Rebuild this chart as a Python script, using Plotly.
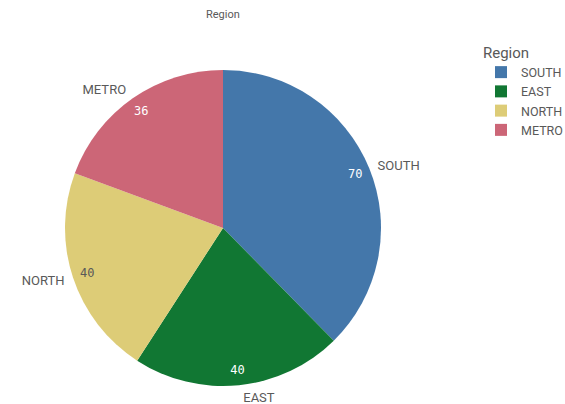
import plotly.graph_objects as go

categories = ["SOUTH", "EAST", "NORTH", "METRO"]
values = [70, 40, 40, 36]
colors = ["#4477aa", "#117733", "#ddcc77", "#cc6677"]
value_text_colors = ["#ffffff", "#ffffff", "#595959", "#ffffff"]

W, H = 565, 404
cx, cy, R = 223, 228, 158
R_LABEL = 163


def dom(r):
    return dict(x=[(cx - r) / W, (cx + r) / W], y=[1 - (cy + r) / H, 1 - (cy - r) / H])


fig = go.Figure()
# colored slices (legend source)
fig.add_trace(go.Pie(
    labels=categories, values=values, sort=False, direction="clockwise",
    rotation=0, domain=dom(R),
    marker=dict(colors=colors, line=dict(width=0)),
    textinfo="none", hoverinfo="label+value", showlegend=True,
))
# category labels outside
fig.add_trace(go.Pie(
    labels=categories, values=values, sort=False, direction="clockwise",
    rotation=0, domain=dom(R_LABEL),
    marker=dict(colors=["rgba(0,0,0,0)"] * 4, line=dict(width=0)),
    text=categories, textinfo="text", textposition="outside",
    outsidetextfont=dict(family="Roboto", size=13, color="#595959"),
    hoverinfo="skip", showlegend=False,
))
# value labels near the rim
fig.add_trace(go.Pie(
    labels=categories, values=values, sort=False, direction="clockwise",
    rotation=0, domain=dom(R), hole=0.81,
    marker=dict(colors=["rgba(0,0,0,0)"] * 4, line=dict(width=0)),
    text=[str(v) for v in values], textinfo="text", textposition="inside",
    insidetextorientation="horizontal",
    insidetextfont=dict(family="DejaVu Sans Mono", size=12, color=value_text_colors),
    hoverinfo="skip", showlegend=False,
))

fig.update_layout(
    width=W, height=H, margin=dict(l=0, r=0, t=0, b=0, autoexpand=False),
    paper_bgcolor="white", plot_bgcolor="white",
    font=dict(family="Roboto", color="#595959"),
    legend=dict(
        title=dict(text="Region", font=dict(size=15, color="#595959")),
        x=481 / W, y=1 - 38 / H, xanchor="left", yanchor="top",
        font=dict(size=12.5, color="#595959"), tracegroupgap=0,
        itemwidth=30,
    ),
    annotations=[dict(text="Region", x=cx / W, y=1 - 14 / H, xref="paper", yref="paper",
                      yanchor="middle", showarrow=False,
                      font=dict(size=11, color="#595959"))],
)

fig.write_html("out.html", post_script="document.body.style.margin='0';",
               config={"displayModeBar": False})
